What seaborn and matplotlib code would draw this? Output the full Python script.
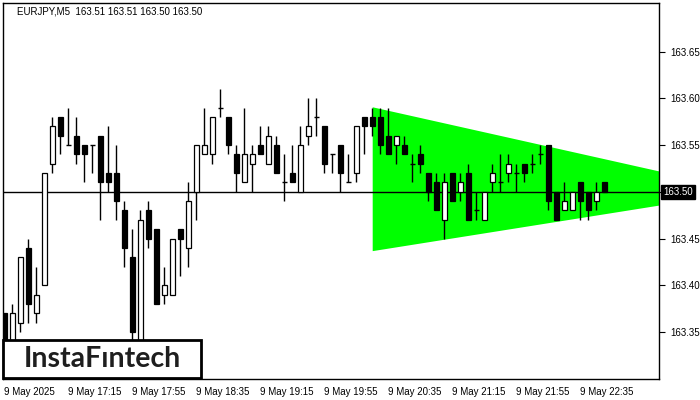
import matplotlib
matplotlib.use("Agg")
import matplotlib.pyplot as plt
from matplotlib.patches import Rectangle
from matplotlib.transforms import blended_transform_factory
import seaborn as sns

# ── Dados ─────────────────────────────────────────────────────
symbol_title = "EURJPY,M5  163.51 163.51 163.50 163.50"

opens = [163.37, 163.33, 163.36, 163.44, 163.37, 163.40, 163.53, 163.58, 163.55, 163.56,
         163.55, 163.55, 163.56, 163.52, 163.52, 163.48, 163.43, 163.34, 163.48, 163.46,
         163.39, 163.39, 163.46, 163.44, 163.50, 163.54, 163.54, 163.59, 163.58, 163.54,
         163.51, 163.53, 163.55, 163.53, 163.55, 163.51, 163.52, 163.50, 163.56, 163.58,
         163.57, 163.54, 163.55, 163.51, 163.52, 163.58, 163.58, 163.58, 163.56, 163.55,
         163.55, 163.53, 163.54, 163.52, 163.51, 163.47, 163.52, 163.50, 163.52, 163.48,
         163.47, 163.51, 163.51, 163.52, 163.52, 163.53, 163.53, 163.54, 163.55, 163.50,
         163.48, 163.48, 163.51, 163.50, 163.49, 163.51]
highs = [163.37, 163.38, 163.43, 163.45, 163.42, 163.52, 163.58, 163.58, 163.59, 163.58,
         163.55, 163.55, 163.56, 163.57, 163.55, 163.49, 163.46, 163.48, 163.49, 163.46,
         163.42, 163.45, 163.46, 163.51, 163.55, 163.59, 163.58, 163.61, 163.58, 163.55,
         163.59, 163.55, 163.57, 163.57, 163.56, 163.54, 163.55, 163.57, 163.60, 163.60,
         163.57, 163.54, 163.55, 163.54, 163.57, 163.58, 163.59, 163.59, 163.59, 163.56,
         163.56, 163.54, 163.55, 163.52, 163.52, 163.52, 163.52, 163.52, 163.53, 163.50,
         163.50, 163.53, 163.54, 163.54, 163.53, 163.53, 163.54, 163.55, 163.55, 163.50,
         163.51, 163.50, 163.51, 163.50, 163.51, 163.51]
lows = [163.31, 163.32, 163.35, 163.36, 163.36, 163.40, 163.52, 163.54, 163.55, 163.53,
        163.51, 163.52, 163.47, 163.50, 163.47, 163.42, 163.33, 163.33, 163.44, 163.38,
        163.38, 163.39, 163.41, 163.42, 163.47, 163.54, 163.53, 163.58, 163.54, 163.50,
        163.51, 163.50, 163.54, 163.53, 163.52, 163.49, 163.51, 163.50, 163.55, 163.56,
        163.52, 163.52, 163.50, 163.51, 163.51, 163.54, 163.56, 163.54, 163.54, 163.53,
        163.54, 163.51, 163.52, 163.49, 163.48, 163.45, 163.49, 163.49, 163.47, 163.47,
        163.47, 163.50, 163.50, 163.51, 163.50, 163.51, 163.52, 163.53, 163.48, 163.47,
        163.48, 163.48, 163.47, 163.47, 163.48, 163.50]
closes = [163.33, 163.37, 163.43, 163.38, 163.39, 163.52, 163.57, 163.56, 163.55, 163.54,
          163.54, 163.55, 163.51, 163.51, 163.49, 163.44, 163.35, 163.47, 163.45, 163.38,
          163.40, 163.45, 163.45, 163.49, 163.55, 163.55, 163.58, 163.59, 163.55, 163.52,
          163.54, 163.54, 163.54, 163.56, 163.52, 163.51, 163.51, 163.55, 163.57, 163.58,
          163.53, 163.54, 163.52, 163.51, 163.57, 163.57, 163.57, 163.55, 163.54, 163.56,
          163.54, 163.53, 163.53, 163.50, 163.48, 163.51, 163.49, 163.51, 163.47, 163.48,
          163.50, 163.52, 163.51, 163.53, 163.52, 163.52, 163.53, 163.54, 163.49, 163.47,
          163.49, 163.50, 163.49, 163.48, 163.50, 163.50]

time_labels = ["9 May 2025", "9 May 17:15", "9 May 17:55", "9 May 18:35", "9 May 19:15",
               "9 May 19:55", "9 May 20:35", "9 May 21:15", "9 May 21:55", "9 May 22:35"]
label_every = 8

price_ticks = [163.35, 163.40, 163.45, 163.50, 163.55, 163.60, 163.65]
last_price = 163.50

# triângulo simétrico (padrão)
pattern_x = [46, 82]
pattern_upper = [163.591, 163.522]
pattern_lower = [163.437, 163.486]

# ── Estilo ────────────────────────────────────────────────────
sns.set_theme(style="white")
plt.rcParams["font.family"] = ["Liberation Sans", "DejaVu Sans"]

fig = plt.figure(figsize=(7, 4), dpi=100)
fig.patch.set_facecolor("white")
ax = fig.add_axes([3 / 700, 21 / 400, 656 / 700, 376 / 400])
ax.set_facecolor("white")

n = len(opens)
xs = list(range(n))

# padrão verde
ax.fill_between(pattern_x, pattern_lower, pattern_upper, color="#00ff00",
                linewidth=0, zorder=1)

# linha do preço atual
ax.axhline(last_price, color="black", lw=1.0, zorder=2)

# velas
body_w = 0.6
ax.vlines(xs, lows, highs, color="black", lw=1.0, zorder=3)
for x, o, c in zip(xs, opens, closes):
    if abs(c - o) < 1e-9:
        ax.hlines(o, x - body_w / 2, x + body_w / 2,
                  color="black", lw=1.0, zorder=4)
        continue
    fill = "white" if c > o else "black"
    ax.bar(x, abs(c - o), bottom=min(o, c), width=body_w, color=fill,
           edgecolor="black", linewidth=0.9, zorder=4)

ax.set_xlim(-0.15, 81.85)
ax.set_ylim(163.2996, 163.7021)

# eixos
ax.yaxis.tick_right()
ax.set_yticks(price_ticks)
ax.set_yticklabels(["" if abs(p - last_price) < 1e-9 else f"{p:.2f}" for p in price_ticks])
tick_pos = [i * label_every for i in range(len(time_labels))]
ax.set_xticks(tick_pos)
ax.set_xticklabels(time_labels, ha="left")
ax.tick_params(axis="both", direction="out", length=4, width=0.8, colors="black",
               labelsize=7, pad=2)
ax.tick_params(axis="x", length=3, pad=3)
ax.tick_params(axis="y", pad=4)
for s in ax.spines.values():
    s.set_visible(True)
    s.set_color("black")
    s.set_linewidth(1.0)
ax.grid(False)

# caixa do último preço
trans = blended_transform_factory(ax.transAxes, ax.transData)
ax.text(1.006, last_price, f"{last_price:.2f}", transform=trans, color="white",
        fontsize=7, va="center", ha="left", clip_on=False, zorder=10,
        bbox=dict(facecolor="black", edgecolor="black", pad=1.6))

# título
fig.text(17 / 700, 1 - 12 / 400, symbol_title, fontsize=7, color="black",
         ha="left", va="center")

# logotipo
fig.add_artist(Rectangle((3 / 700, 22 / 400), 198 / 700, 38 / 400,
                         transform=fig.transFigure, facecolor="white",
                         edgecolor="black", linewidth=2, zorder=5))
fig.text(102 / 700, (400 - 359) / 400, "InstaF\u0131ntech", fontsize=20.5,
         color="#1e1e1e", ha="center", va="center", zorder=6, weight="bold",
         family=["Lato", "DejaVu Sans"])

fig.savefig("out.png", dpi=100)
